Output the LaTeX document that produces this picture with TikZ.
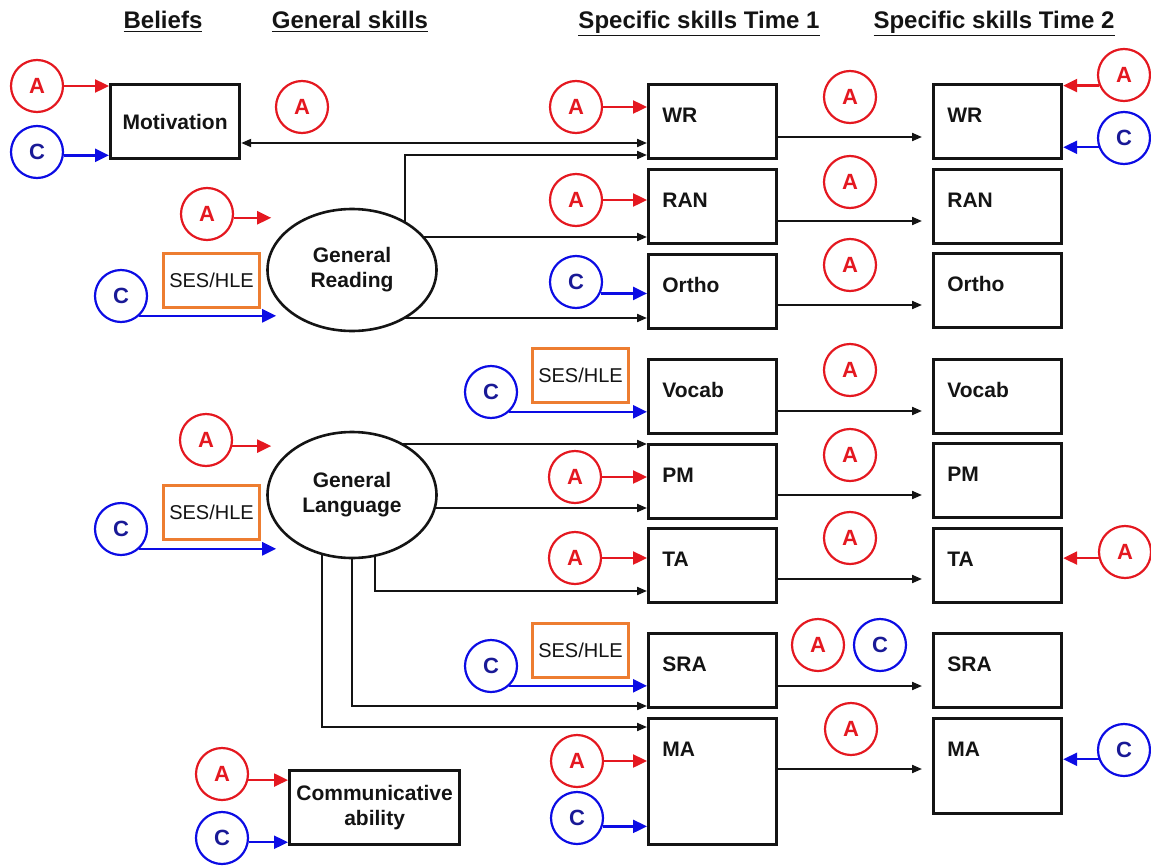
\documentclass[tikz,border=0pt]{standalone}
\usepackage{fontspec}
\setmainfont{Liberation Sans}
\usetikzlibrary{arrows.meta,backgrounds,shapes.geometric}

\definecolor{ared}{RGB}{228,24,32}
\definecolor{cblue}{RGB}{12,12,228}
\definecolor{cnavy}{RGB}{25,25,150}
\definecolor{sesorange}{RGB}{237,125,49}
\definecolor{ink}{RGB}{20,20,20}

\begin{document}
\begin{tikzpicture}[x=0.5pt,y=-0.5pt,
  skill/.style={draw=ink,line width=1.6pt,minimum width=64pt,minimum height=37pt,
    anchor=north west,inner sep=0pt},
  btxt/.style={font=\fontsize{10.5}{12}\selectfont\bfseries,text=ink,anchor=base west,inner sep=0pt},
  ctxt/.style={font=\fontsize{10.5}{12.5}\selectfont\bfseries,text=ink,align=center},
  acirc/.style={circle,draw=ared,line width=1.1pt,minimum size=26pt,inner sep=0pt,
    text=ared,font=\fontsize{11}{12}\selectfont\bfseries},
  ccirc/.style={circle,draw=cblue,line width=1.1pt,minimum size=26pt,inner sep=0pt,
    text=cnavy,font=\fontsize{11}{12}\selectfont\bfseries},
  ses/.style={draw=sesorange,line width=1.5pt,minimum width=48pt,minimum height=27pt,
    anchor=north west,inner sep=0pt,font=\fontsize{10}{12}\selectfont,text=ink},
  oval/.style={ellipse,draw=ink,fill=white,line width=1.3pt,minimum width=84.5pt,
    minimum height=61pt,inner sep=0pt,align=center,
    font=\fontsize{10.5}{12.5}\selectfont\bfseries,text=ink},
  hdr/.style={font=\fontsize{12}{14}\selectfont\bfseries,text=ink,anchor=base,inner sep=0pt},
  blk/.style={draw=ink,line width=1pt,-{Triangle[length=5pt,width=4pt]}},
  blkboth/.style={draw=ink,line width=1pt,{Triangle[length=5pt,width=4pt]}-{Triangle[length=5pt,width=4pt]}},
  rarr/.style={draw=ared,line width=1.2pt,-{Triangle[length=7pt,width=6.5pt]}},
  barr/.style={draw=cblue,line width=1.2pt,-{Triangle[length=7pt,width=6.5pt]}}
]
\useasboundingbox (0,0) rectangle (1151,867);

% column headings
\node[hdr] (hBel) at (163,28) {\underline{Beliefs}};
\node[hdr] (hGen) at (350,28) {\underline{General skills}};
\node[hdr] (hT1)  at (699,28) {\underline{Specific skills Time 1}};
\node[hdr] (hT2)  at (994,28) {\underline{Specific skills Time 2}};

% beliefs
\node[skill,minimum width=64.5pt,font=\fontsize{10.5}{12}\selectfont\bfseries,text=ink] (Mot) at (109,83) {Motivation};
\node[skill,minimum width=85pt] (Comm) at (288,769) {};
\node[ctxt] at (Comm.center) {Communicative\\ability};

% general skills
\node[oval] (GR) at (352,270) {General\\Reading};
\node[oval,minimum height=63pt] (GL) at (352,495) {General\\Language};

% specific skills, time 1
\node[skill] (WR1)    at (647,83)  {};
\node[skill] (RAN1)   at (647,168) {};
\node[skill] (Ortho1) at (647,253) {};
\node[skill] (Vocab1) at (647,358) {};
\node[skill] (PM1)    at (647,443) {};
\node[skill] (TA1)    at (647,527) {};
\node[skill] (SRA1)   at (647,632) {};
\node[skill,minimum height=63pt] (MA1) at (647,717) {};

% specific skills, time 2
\node[skill] (WR2)    at (932,83)  {};
\node[skill] (RAN2)   at (932,168) {};
\node[skill] (Ortho2) at (932,252) {};
\node[skill] (Vocab2) at (932,358) {};
\node[skill] (PM2)    at (932,442) {};
\node[skill] (TA2)    at (932,527) {};
\node[skill] (SRA2)   at (932,632) {};
\node[skill,minimum height=47.5pt] (MA2) at (932,717) {};

% box labels
\foreach \b/\t in {WR1/WR,RAN1/RAN,Ortho1/Ortho,Vocab1/Vocab,PM1/PM,TA1/TA,SRA1/SRA,MA1/MA,
                   WR2/WR,RAN2/RAN,Ortho2/Ortho,Vocab2/Vocab,PM2/PM,TA2/TA,SRA2/SRA,MA2/MA}
  \node[btxt] (\b-lbl) at ([shift={(15,39)}]\b.north west) {\t};

% SES/HLE boxes
\node[ses] (sesGR) at (162,252) {SES/HLE};
\node[ses] (sesGL) at (162,484) {SES/HLE};
\node[ses] (sesVo) at (531,347) {SES/HLE};
\node[ses] (sesSR) at (531,622) {SES/HLE};

% A / C circles
\node[acirc] (aMot)  at (37,86)   {A};
\node[ccirc] (cMot)  at (37,152)  {C};
\node[acirc] (aMW)   at (302,107) {A};
\node[acirc] (aGR)   at (207,214) {A};
\node[ccirc] (cGR)   at (121,296) {C};
\node[acirc] (aGL)   at (206,440) {A};
\node[ccirc] (cGL)   at (121,529) {C};
\node[acirc] (aComm) at (222,774) {A};
\node[ccirc] (cComm) at (222,838) {C};

\node[acirc] (aWR1)  at (576,107) {A};
\node[acirc] (aRAN1) at (576,200) {A};
\node[ccirc] (cOr1)  at (576,282) {C};
\node[ccirc] (cVo1)  at (491,392) {C};
\node[acirc] (aPM1)  at (575,477) {A};
\node[acirc] (aTA1)  at (575,558) {A};
\node[ccirc] (cSR1)  at (491,666) {C};
\node[acirc] (aMA1)  at (577,761) {A};
\node[ccirc] (cMA1)  at (577,818) {C};

\node[acirc] (aWR12)  at (850,97)  {A};
\node[acirc] (aRAN12) at (850,182) {A};
\node[acirc] (aOr12)  at (850,265) {A};
\node[acirc] (aVo12)  at (850,370) {A};
\node[acirc] (aPM12)  at (850,455) {A};
\node[acirc] (aTA12)  at (850,538) {A};
\node[acirc] (aSR12)  at (818,645) {A};
\node[ccirc] (cSR12)  at (880,645) {C};
\node[acirc] (aMA12)  at (851,729) {A};

\node[acirc] (aWR2) at (1124,75)  {A};
\node[ccirc] (cWR2) at (1124,138) {C};
\node[acirc] (aTA2) at (1125,552) {A};
\node[ccirc] (cMA2) at (1124,750) {C};

% paths leaving the general-skill ovals (behind the ovals)
\begin{pgfonlayer}{background}
\draw[blk] ([shift={(53,0)}]GR.center) |- (WR1.west |- 0,155);
\draw[blk] (GR.center |- 0,237) -- (RAN1.west |- 0,237);
\draw[blk] (GR.center |- 0,318) -- (Ortho1.west |- 0,318);
\draw[blk] (GL.center |- 0,444) -- (PM1.west |- 0,444);
\draw[blk] (GL.center |- 0,508) -- (PM1.west |- 0,508);
\draw[blk] ([shift={(23,0)}]GL.center) |- (TA1.west |- 0,591);
\draw[blk] (GL.center) |- (SRA1.west |- 0,706);
\draw[blk] ([shift={(-30,0)}]GL.center) |- (MA1.west |- 0,727);
\end{pgfonlayer}

% motivation <-> word reading
\draw[blkboth] (Mot.east |- 0,143) -- (WR1.west |- 0,143);

% time 1 -> time 2
\foreach \s/\y in {WR/137,RAN/221,Ortho/305,Vocab/411,PM/495,TA/579,SRA/686,MA/769}
  \draw[blk,shorten >=5pt] (\s1.east |- 0,\y) -- (\s2.west |- 0,\y);

% influences from A and C
\draw[rarr] (aMot.east) -- (aMot.east -| Mot.west);
\draw[barr] (cMot.-7) -- (cMot.-7 -| Mot.west);
\draw[rarr] (aGR.-8) -- ([xshift=2.5pt]aGR.-8 -| GR.west);
\draw[barr] (cGR.-47) -- ([xshift=5pt]cGR.-47 -| GR.west);
\draw[rarr] (aGL.-13) -- ([xshift=2.5pt]aGL.-13 -| GL.west);
\draw[barr] (cGL.-47) -- ([xshift=5pt]cGL.-47 -| GL.west);
\draw[rarr] (aComm.-13) -- (aComm.-13 -| Comm.west);
\draw[barr] (cComm.-9) -- (cComm.-9 -| Comm.west);

\draw[rarr] (aWR1.east) -- (aWR1.east -| WR1.west);
\draw[rarr] (aRAN1.east) -- (aRAN1.east -| RAN1.west);
\draw[barr] (cOr1.-25) -- (cOr1.-25 -| Ortho1.west);
\draw[barr] (cVo1.-47) -- (cVo1.-47 -| Vocab1.west);
\draw[rarr] (aPM1.east) -- (aPM1.east -| PM1.west);
\draw[rarr] (aTA1.east) -- (aTA1.east -| TA1.west);
\draw[barr] (cSR1.-47) -- (cSR1.-47 -| SRA1.west);
\draw[rarr] (aMA1.east) -- (aMA1.east -| MA1.west);
\draw[barr] (cMA1.-18) -- (cMA1.-18 -| MA1.west);

\draw[rarr] (aWR2.203) -- (aWR2.203 -| WR2.east);
\draw[barr] (cWR2.200) -- (cWR2.200 -| WR2.east);
\draw[rarr] (aTA2.193) -- (aTA2.193 -| TA2.east);
\draw[barr] (cMA2.200) -- (cMA2.200 -| MA2.east);
\end{tikzpicture}
\end{document}
